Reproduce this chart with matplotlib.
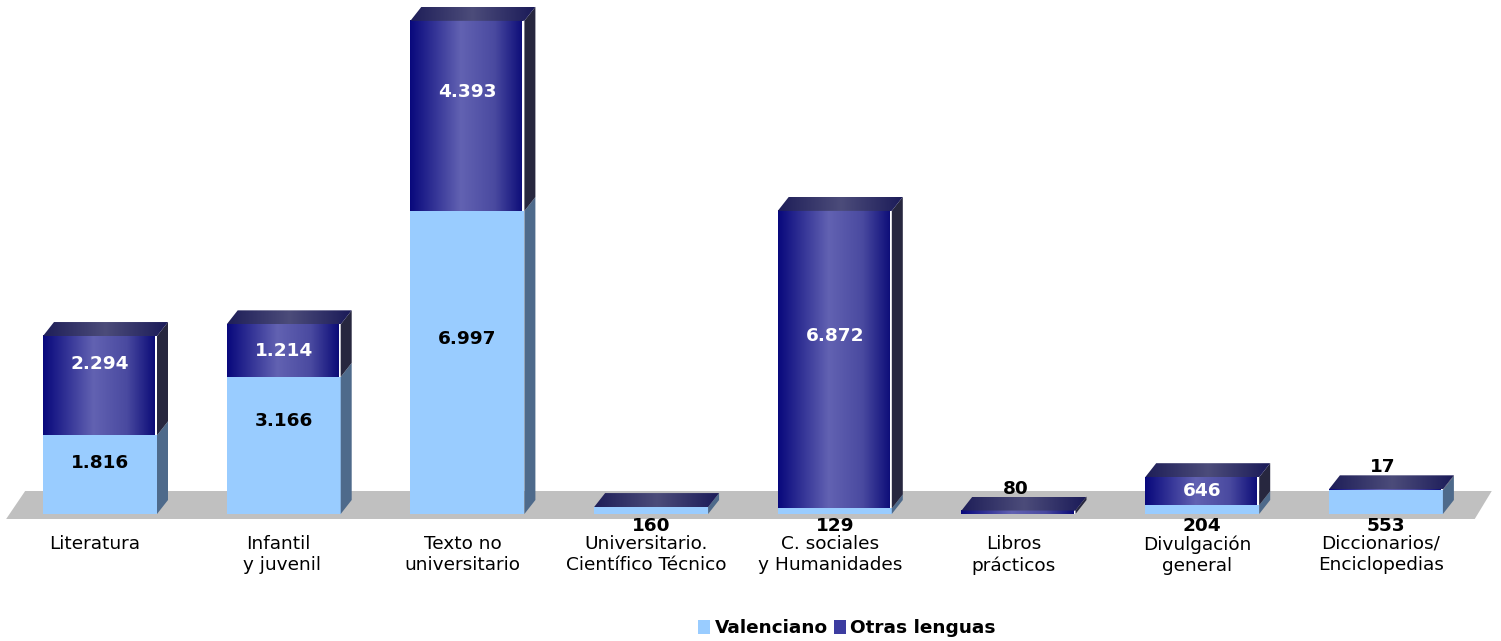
import numpy as np
import matplotlib
matplotlib.use("Agg")
import matplotlib.pyplot as plt
from matplotlib.patches import Polygon, Patch
from matplotlib.colors import LinearSegmentedColormap

# ---------------- data ----------------
categories = ["Literatura", "Infantil\n y juvenil", "Texto no\nuniversitario",
              "Universitario.\nCientífico Técnico", "C. sociales\ny Humanidades",
              "Libros\nprácticos", "Divulgación\ngeneral", "Diccionarios/\nEnciclopedias"]
valenciano = [1816, 3166, 6997, 160, 129, 0, 204, 553]
otras = [2294, 1214, 4393, 0, 6872, 80, 646, 17]
series_names = ["Valenciano", "Otras lenguas"]

# ---------------- style ----------------
LIGHT = "#99ccff"
LIGHT_SIDE = "#4e6a8b"
DARK_SIDE = "#27273f"
FLOOR = "#c0c0c0"
front_cmap = LinearSegmentedColormap.from_list(
    "front", [(0, "#08087c"), (0.45, "#6262b2"), (0.75, "#4a4aa0"), (1, "#0c0c78")])
top_cmap = LinearSegmentedColormap.from_list(
    "top", [(0, "#1e1e58"), (0.5, "#4c4c7a"), (1, "#1a1a58")])

W, H, DPI = 1501, 641, 100
fig = plt.figure(figsize=(W / DPI, H / DPI), dpi=DPI)
ax = fig.add_axes([0, 0, 1, 1])
ax.set_axis_off()

# pixel scales
PX_CAT = 183.7      # pixels per category
PX_VAL = 0.0433     # pixels per value unit
X0_PX = 100         # pixel x of first category
Y0_PX = 127         # pixel y (from bottom) of baseline
xlim = (-X0_PX / PX_CAT, (W - X0_PX) / PX_CAT)
ylim = (-Y0_PX / PX_VAL, (H - Y0_PX) / PX_VAL)

def cx(px):
    return px / PX_CAT

def cy(px):
    return px / PX_VAL

BAR_W = cx(114)
DX, DY = cx(11), cy(14)
FS = 13.3

# floor
n = len(categories)
fl = -0.5 - cx(2)
fr = n - 0.5 - cx(3)
fb = cy(-5)
floor = Polygon([(fl, fb), (fr, fb), (fr + cx(17), fb + cy(28)), (fl + cx(19), fb + cy(28))],
                closed=True, facecolor=FLOOR, edgecolor="none", zorder=1)
ax.add_patch(floor)

grad = np.linspace(0, 1, 256).reshape(1, -1)

def fmt(v):
    return f"{v:,}".replace(",", ".")

def lift(v):
    # label nudge (pixels) used by the original 3-D renderer for taller segments
    h = v * PX_VAL
    return min(24.0, max(0.0, h - 55) * 0.5)

for i, (v1, v2) in enumerate(zip(valenciano, otras)):
    l, r = i - BAR_W / 2, i + BAR_W / 2
    top = v1 + v2
    z = 2
    if v1 > 0:
        ax.add_patch(Polygon([(l, 0), (r, 0), (r, v1), (l, v1)], closed=True,
                             facecolor=LIGHT, edgecolor="none", zorder=z))
        ax.add_patch(Polygon([(r, 0), (r + DX, DY), (r + DX, v1 + DY), (r, v1)], closed=True,
                             facecolor=LIGHT_SIDE, edgecolor="none", zorder=z))
    if v2 > 0:
        ax.imshow(grad, extent=[l, r - cx(2), v1, top], aspect="auto", cmap=front_cmap,
                  zorder=z + 0.1, interpolation="bicubic")
        ax.add_patch(Polygon([(r - cx(2), v1), (r, v1), (r, top), (r - cx(2), top)], closed=True,
                             facecolor="white", edgecolor="none", zorder=z + 0.1))
        ax.add_patch(Polygon([(r, v1), (r + DX, v1 + DY), (r + DX, top + DY), (r, top)], closed=True,
                             facecolor=DARK_SIDE, edgecolor="none", zorder=z + 0.1))
    tp = Polygon([(l, top), (r, top), (r + DX, top + DY), (l + DX, top + DY)], closed=True,
                 facecolor="none", edgecolor="none", zorder=z + 0.2)
    ax.add_patch(tp)
    im = ax.imshow(grad, extent=[l, r + DX, top, top + DY], aspect="auto", cmap=top_cmap,
                   zorder=z + 0.2, interpolation="bicubic")
    im.set_clip_path(tp)

    # value labels
    if v1 > 0:
        if v1 * PX_VAL >= 26:
            ax.annotate(fmt(v1), (i, v1 / 2), xytext=(0, lift(v1)), textcoords="offset pixels",
                        ha="center", va="center", fontsize=FS, fontweight="bold",
                        color="black", zorder=5)
        else:
            ax.annotate(fmt(v1), (i, 0), xytext=(0, -3), textcoords="offset pixels",
                        ha="center", va="top", fontsize=FS, fontweight="bold",
                        color="black", zorder=5)
    if v2 > 0:
        if v2 * PX_VAL >= 26:
            ax.annotate(fmt(v2), (i, v1 + v2 / 2), xytext=(0, lift(v2)), textcoords="offset pixels",
                        ha="center", va="center", fontsize=FS, fontweight="bold",
                        color="white", zorder=5)
        else:
            ax.annotate(fmt(v2), (i, top + DY), xytext=(-3, -1), textcoords="offset pixels",
                        ha="center", va="bottom", fontsize=FS, fontweight="bold",
                        color="black", zorder=5)

    # category label
    ax.annotate(categories[i], (i, 0), xytext=(-5, -21), textcoords="offset pixels",
                ha="center", va="top", fontsize=FS, linespacing=1.25, color="black")

ax.set_xlim(*xlim)
ax.set_ylim(*ylim)

handles = [Patch(facecolor=LIGHT, edgecolor="none"), Patch(facecolor="#3c3ca0", edgecolor="none")]
fig.legend(handles, series_names, loc="center", bbox_to_anchor=(847 / W, 13 / H),
           ncol=2, frameon=False, prop={"weight": "bold", "size": FS},
           handlelength=0.65, handleheight=0.8, handletextpad=0.25, columnspacing=0.3,
           borderpad=0, borderaxespad=0)

fig.savefig("out.png", dpi=DPI)
